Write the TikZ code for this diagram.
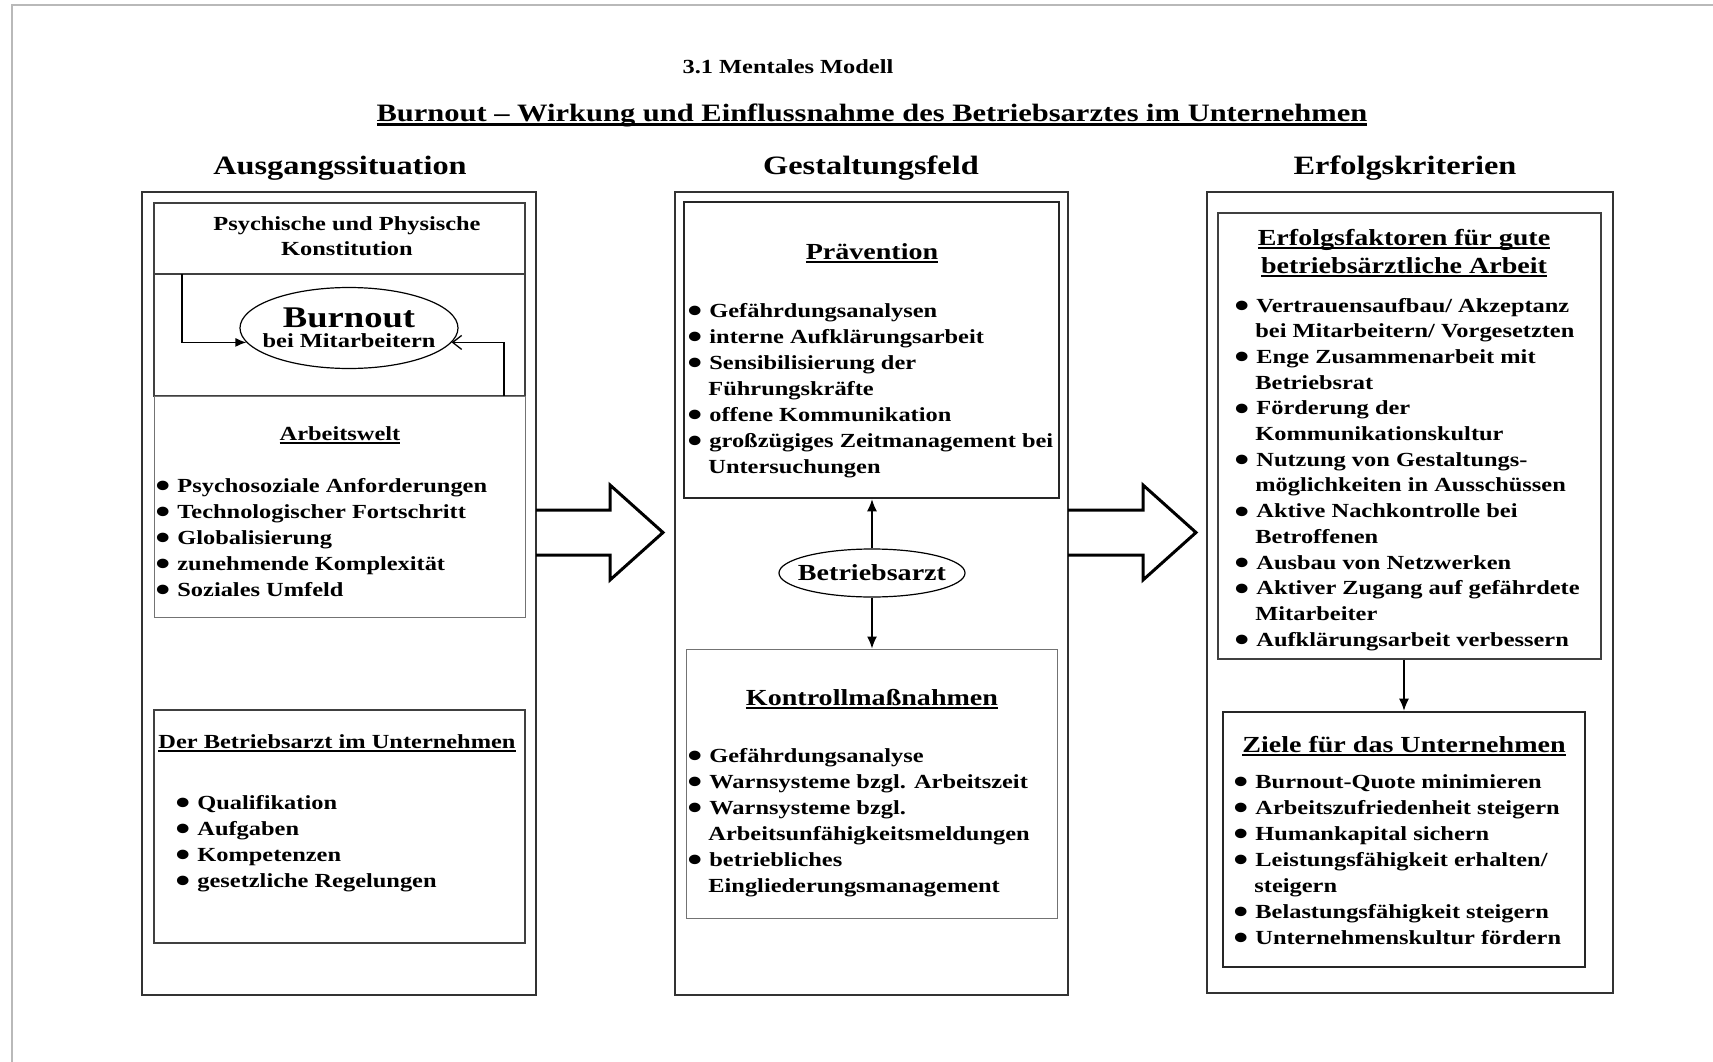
\documentclass[tikz,border=0pt]{standalone}
\usepackage{fontspec}
\setmainfont{Liberation Serif}[FakeStretch=1.22]
\usetikzlibrary{positioning, fit, shapes.geometric, arrows.meta}

\newcommand{\ul}[2][1.8pt]{\setbox0\hbox{#2}\rlap{\rule[-3.5pt]{\wd0}{#1}}\box0}
\newcommand{\bul}{\makebox[22pt][l]{\smash{\raisebox{-5.5pt}{\fontsize{35}{26}\selectfont\textbullet}}}}
\newcommand{\ind}{\hspace*{21pt}}
\newcommand{\lst}[1]{\begin{tabular}[t]{@{}l@{}}#1\end{tabular}}
\newcommand{\ctr}[1]{\begin{tabular}[t]{@{}c@{}}#1\end{tabular}}

\begin{document}
\begin{tikzpicture}[x=1pt, y=-1pt, thick,
  obox/.style = {draw=black!80, line width=2pt, inner sep=0},
  ibox/.style = {draw=black!75, line width=1.5pt, inner sep=0},
  tbox/.style = {draw=black!85, line width=2.6pt, inner sep=0},
  lbox/.style = {draw=black!55, line width=1pt, inner sep=0},
  ell/.style = {draw, ellipse, line width=1.2pt, inner xsep=-15pt, inner ysep=0pt, font=\fontsize{20}{20}\selectfont\bfseries, align=center},
  lst/.style = {anchor=base west, inner sep=0, font=\fontsize{20}{26}\selectfont\bfseries},
  ttl/.style = {anchor=base, inner sep=0, font=\fontsize{23}{28}\selectfont\bfseries},
  hdr/.style = {anchor=base, inner sep=0, font=\fontsize{26.5}{30}\selectfont\bfseries},
  arr/.style = {line width=1.3pt, -{Latex[length=12pt,width=10pt]}},
  blk/.style = {line width=3pt, line join=miter}]
\useasboundingbox (0,0) rectangle (1713,1062);
\draw[gray!55, line width=1.5pt] (12,1062) -- (12,5) -- (1713,5);

\node[anchor=base, font=\fontsize{20}{24}\selectfont\bfseries] (hd) at (788,74) {3.1 Mentales Modell};
\node[anchor=base, font=\fontsize{25}{30}\selectfont\bfseries] (tt) at (872,122) {\ul[2.6pt]{Burnout -- Wirkung und Einflussnahme des Betriebsarztes im Unternehmen}};
\node[hdr] (h1) at (340,175) {Ausgangssituation};
\node[hdr] (h2) at (871,175) {Gestaltungsfeld};
\node[hdr] (h3) at (1405,175) {Erfolgskriterien};

\node[obox, fit={(142,192) (536,995)}] (ao) {};
\node[obox, fit={(675,192) (1068,995)}] (go) {};
\node[obox, fit={(1207,192) (1613,993)}] (eo) {};

\node[ibox, fit={(154,203) (525,274)}] (psy) {};
\node[ibox, fit={(154,274) (525,396)}] (bu) {};
\node[lbox, fit={(154,396) (525,617)}] (aw) {};
\node[ibox, fit={(154,710) (525,943)}] (ba) {};
\node[tbox, fit={(684,202) (1059,498)}] (pv) {};
\node[lbox, fit={(686,649) (1057,918)}] (km) {};
\node[ibox, fit={(1218,213) (1601,659)}] (ef) {};
\node[tbox, fit={(1223,712) (1585,967)}] (zi) {};

\node[anchor=base, inner sep=0, font=\fontsize{20}{25}\selectfont\bfseries] (psyt) at (347,230) {\ctr{Psychische und Physische\\ Konstitution}};
\node[ell, minimum width=218, minimum height=81] (bo) at (349,328) {{\fontsize{30}{30}\selectfont Burnout}\\ bei Mitarbeitern};
\coordinate (k1) at (182,274);
\coordinate (k2) at (504,396);
\draw[line width=1.3pt, -{Latex[length=11pt,width=9pt]}] (k1) |- (bo.188);
\draw[line width=1.3pt, -{Straight Barb[length=9pt,width=14pt]}] (k2) |- (bo.352);

\node[anchor=base, inner sep=0, font=\fontsize{20}{26}\selectfont\bfseries] (awt) at (340,440) {\ul{Arbeitswelt}};
\node[lst] (awl) at (155,492) {\lst{\bul Psychosoziale Anforderungen\\ \bul Technologischer Fortschritt\\ \bul Globalisierung\\ \bul zunehmende Komplexität\\ \bul Soziales Umfeld}};

\node[anchor=base, inner sep=0, font=\fontsize{20}{26}\selectfont\bfseries] (bat) at (337,748) {\ul{Der Betriebsarzt im Unternehmen}};
\node[lst] (bal) at (175,809) {\lst{\bul Qualifikation\\ \bul Aufgaben\\ \bul Kompetenzen\\ \bul gesetzliche Regelungen}};

\node[ttl] (pvt) at (872,259) {\ul{Prävention}};
\node[lst] (pvl) at (687,317) {\lst{\bul Gefährdungsanalysen\\ \bul interne Aufklärungsarbeit\\ \bul Sensibilisierung der\\ \ind Führungskräfte\\ \bul offene Kommunikation\\ \bul großzügiges Zeitmanagement bei\\ \ind Untersuchungen}};

\node[ell, minimum width=186, minimum height=48, inner xsep=-12pt, font=\fontsize{23}{23}\selectfont\bfseries] (bz) at (872,573) {Betriebsarzt};
\draw[arr] (bz.north) -- (bz.north |- pv.south);
\draw[arr] (bz.south) -- (bz.south |- km.north);

\node[ttl] (kmt) at (872,705) {\ul{Kontrollmaßnahmen}};
\node[lst] (kml) at (687,762) {\lst{\bul Gefährdungsanalyse\\ \bul Warnsysteme bzgl. Arbeitszeit\\ \bul Warnsysteme bzgl.\\ \ind Arbeitsunfähigkeitsmeldungen\\ \bul betriebliches\\ \ind Eingliederungsmanagement}};

\node[ttl] (eft) at (1404,245) {\ctr{\ul{Erfolgsfaktoren für gute}\\ \ul{betriebsärztliche Arbeit}}};
\node[lst, font=\fontsize{20}{25.7}\selectfont\bfseries] (efl) at (1234,312) {\lst{\bul Vertrauensaufbau/ Akzeptanz\\ \ind bei Mitarbeitern/ Vorgesetzten\\ \bul Enge Zusammenarbeit mit\\ \ind Betriebsrat\\ \bul Förderung der\\ \ind Kommunikationskultur\\ \bul Nutzung von Gestaltungs-\\ \ind möglichkeiten in Ausschüssen\\ \bul Aktive Nachkontrolle bei\\ \ind Betroffenen\\ \bul Ausbau von Netzwerken\\ \bul Aktiver Zugang auf gefährdete\\ \ind Mitarbeiter\\ \bul Aufklärungsarbeit verbessern}};

\draw[arr] (ef.south -| zi.north) -- (zi.north);
\node[ttl] (zit) at (1404,752) {\ul{Ziele für das Unternehmen}};
\node[lst] (zil) at (1233,788) {\lst{\bul Burnout-Quote minimieren\\ \bul Arbeitszufriedenheit steigern\\ \bul Humankapital sichern\\ \bul Leistungsfähigkeit erhalten/\\ \ind steigern\\ \bul Belastungsfähigkeit steigern\\ \bul Unternehmenskultur fördern}};

\coordinate (a1) at (536,532.5);
\coordinate (a2) at (1068,532.5);
\draw[blk] (a1) ++(0,-22.5) -- ++(74,0) -- ++(0,-25) -- ++(53,47.5) -- ++(-53,47.5) -- ++(0,-25) -- ++(-74,0);
\draw[blk] (a2) ++(0,-22.5) -- ++(75,0) -- ++(0,-25) -- ++(53,47.5) -- ++(-53,47.5) -- ++(0,-25) -- ++(-75,0);
\end{tikzpicture}
\end{document}
